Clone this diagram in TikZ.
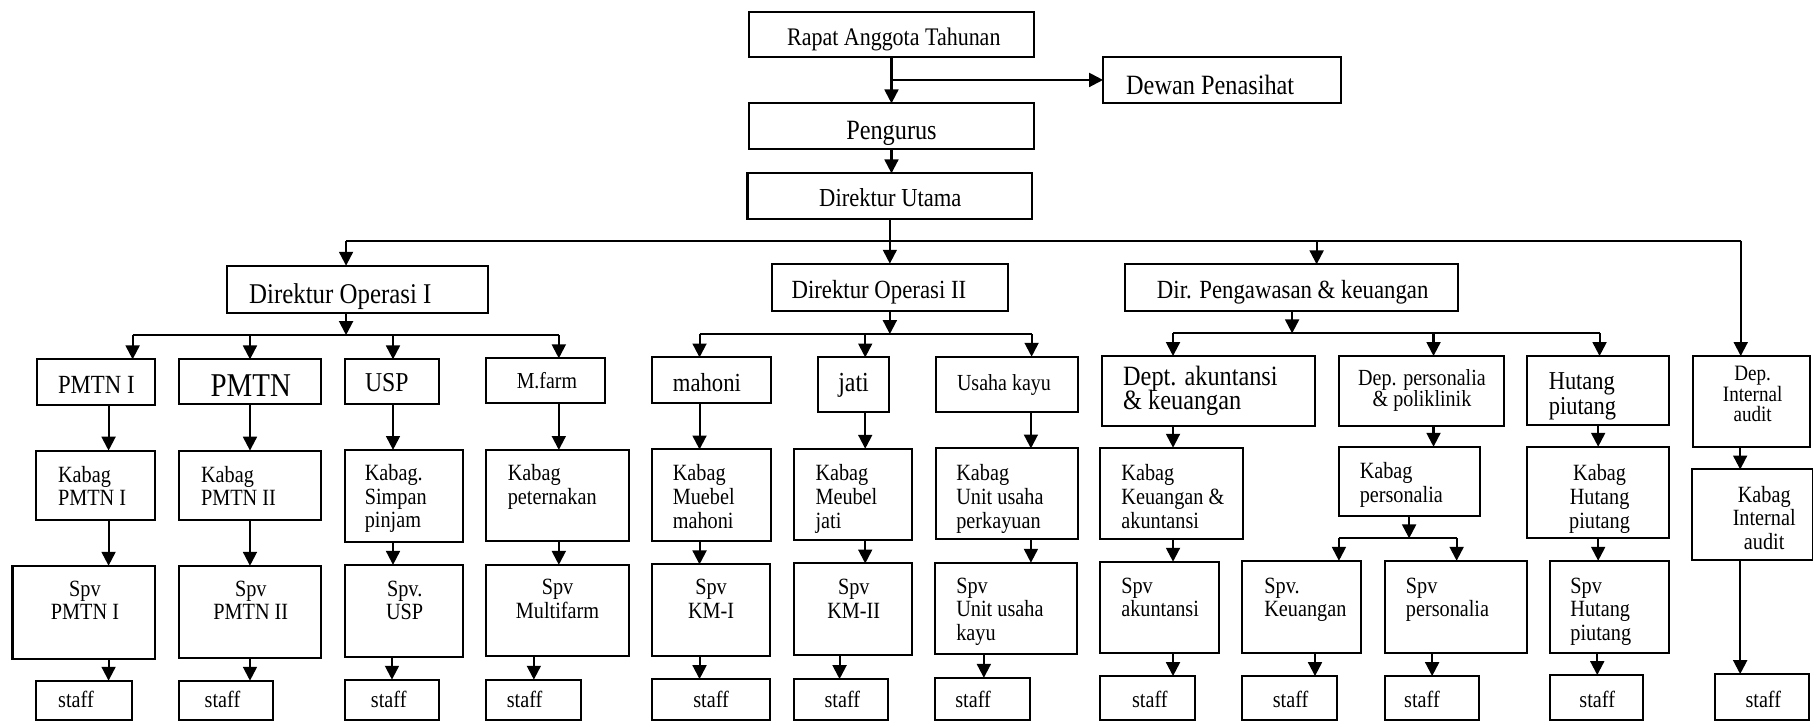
\documentclass[tikz,border=0pt]{standalone}
\usepackage{fontspec}
\setmainfont{Liberation Serif}[FakeStretch=0.87]
\usetikzlibrary{arrows.meta}
\newcommand\fs[2]{\fontsize{\dimexpr #1pt*115/100\relax}{#2}\selectfont\lineskiplimit=-100pt\relax}
\newcommand\mybox[5]{\node[bx, minimum width={(#4)-(#2)}, minimum height={(#5)-(#3)}] (#1) at ({((#2)+(#4))/2},{((#3)+(#5))/2}) {};}
\newcommand\vc[3]{\draw[arr] (#1.south -| #3,0) -- (#2.north -| #3,0);}
\begin{document}
\begin{tikzpicture}[x=1pt,y=-1pt,
  bx/.style={draw, line width=1.8pt, inner sep=0pt, outer sep=0pt},
  arr/.style={line width=1.8pt, -{Triangle[length=12pt,width=12pt]}},
  ln/.style={line width=1.8pt},
  t/.style={inner sep=0pt, outer sep=0pt, font=\fs{17.5}{20.5}, align=left}]
\path[use as bounding box] (0,0) rectangle (1568,626);

% ---- top
\mybox{rat}{648}{10}{894}{49.6}
\node[t, anchor=base, font=\fs{19}{22}] (ratt) at (773,39) {Rapat Anggota Tahunan};
\mybox{dew}{954}{49}{1159.4}{89.3}
\node[t, anchor=base west, font=\fs{21}{24}] (dewt) at (974,82) {Dewan Penasihat};
\mybox{pen}{648}{89.4}{894}{129.2}
\node[t, anchor=base, font=\fs{21}{24}] (pent) at (771,121) {Pengurus};
\mybox{du}{646.5}{149.9}{892.7}{189.7}
\node[t, anchor=base, font=\fs{19.5}{22}] (dut) at (770,178.7) {Direktur Utama};

\draw[arr] (rat.south) -- (pen.north);
\draw[arr] (rat.south |- dew.west) -- (dew.west);
\draw[arr] (pen.south) -- (pen.south |- du.north);

% ---- directors
\mybox{dop1}{196.2}{229.8}{422.1}{270.4}
\node[t, anchor=base west, font=\fs{21.5}{24}] (dop1t) at (215.5,262.4) {Direktur Operasi I};
\mybox{dop2}{667.3}{228}{872.1}{268.7}
\node[t, anchor=base west, font=\fs{19.7}{22}] (dop2t) at (684.6,258) {Direktur Operasi II};
\mybox{dpk}{973}{228.6}{1261}{268.9}
\node[t, anchor=base west, font=\fs{19.7}{22}] (dpkt) at (1000.6,258) {Dir. Pengawasan \& keuangan};

\coordinate (b0) at (299.3,208.2);
\coordinate (b3) at (1505.5,208.2);
\draw[ln] (du.south) -- (du.south |- b0);
\draw[ln] (b0) -- (b3);
\draw[arr] (b0) -- (b0 |- dop1.north);
\draw[arr] (du.south |- b0) -- (du.south |- dop2.north);
\draw[arr] (1138.7,208.2) -- (dpk.north -| 1138.7,0);

% ---- level 2
\mybox{pm1}{32.3}{310.8}{134.4}{350.2}
\node[t, anchor=base, font=\fs{19.7}{22}] (pm1t) at (83.3,340) {PMTN I};
\mybox{pm2}{154.9}{310.8}{277.8}{349.7}
\node[t, anchor=base, font=\fs{25}{28}] (pm2t) at (216.9,343) {PMTN};
\mybox{usp}{298.3}{310.8}{380}{349.7}
\node[t, anchor=base, font=\fs{20.5}{23}] (uspt) at (334.5,339) {USP};
\mybox{mf}{420.5}{309.9}{523.4}{348.8}
\node[t, anchor=base, font=\fs{17.2}{20}] (mft) at (473,336) {M.farm};

\mybox{mah}{563.7}{309.1}{666.6}{348.9}
\node[t, anchor=base, font=\fs{19.6}{22}] (maht) at (611.4,338.8) {mahoni};
\mybox{jat}{707.6}{309.1}{768.8}{356}
\node[t, anchor=base, font=\fs{20.7}{23}] (jatt) at (738.2,338.8) {jati};
\mybox{uk}{809.5}{308.5}{932}{356}
\node[t, anchor=base, font=\fs{17.3}{20}] (ukt) at (868.3,337.3) {Usaha kayu};

\mybox{dak}{952.7}{307.9}{1137.3}{368.5}
\node[t, anchor=north west, font=\fs{21}{21}] (dakt) at (971.4,316.5) {Dept. akuntansi\\\& keuangan};
\mybox{dpp}{1158}{307.9}{1300.8}{368.5}
\node[t, anchor=north, align=center, font=\fs{17.35}{18}] (dppt) at (1229.8,319.5) {Dep. personalia\\\& poliklinik};
\mybox{hp}{1320.8}{307.9}{1443.2}{367.6}
\node[t, anchor=north west, font=\fs{19.4}{21.6}] (hpt) at (1339.5,322) {Hutang\\piutang};
\mybox{dia}{1464.3}{307.9}{1565.6}{386.4}
\node[t, anchor=north, align=center, font=\fs{16.5}{18}] (diat) at (1515.8,316.5) {Dep.\\Internal\\audit};

% buses level 2
\coordinate (c1) at (114.7,289.8);
\coordinate (c2) at (483.3,289.8);
\draw[arr] (dop1.south -| b0) -- (b0 |- c1);
\draw[ln] (c1) -- (c2);
\draw[arr] (c1) -- (c1 |- pm1.north);
\draw[arr] (216.2,289.8) -- (pm2.north -| 216.2,0);
\draw[arr] (339.9,289.8) -- (usp.north -| 339.9,0);
\draw[arr] (c2) -- (c2 |- mf.north);

\coordinate (d1) at (605,288.9);
\coordinate (d2) at (892.2,288.9);
\draw[arr] (dop2.south -| du.south) -- (du.south |- d1);
\draw[ln] (d1) -- (d2);
\draw[arr] (d1) -- (d1 |- mah.north);
\draw[arr] (748.3,288.9) -- (jat.north -| 748.3,0);
\draw[arr] (d2) -- (d2 |- uk.north);

\coordinate (e1) at (1014.5,288.3);
\coordinate (e2) at (1383.4,288.3);
\draw[arr] (dpk.south -| 1117.5,0) -- (1117.5,288.3);
\draw[ln] (e1) -- (e2);
\draw[arr] (e1) -- (e1 |- dak.north);
\draw[arr] (1239.8,288.3) -- (dpp.north -| 1239.8,0);
\draw[arr] (e2) -- (e2 |- hp.north);
\draw[arr] (b3) -- (b3 |- dia.north);

% ---- level 3 (Kabag)
\mybox{kb1}{31.5}{389.7}{134.4}{449.6}
\node[t, anchor=north west] (kb1t) at (50.2,403) {Kabag\\PMTN I};
\mybox{kb2}{154.9}{389.7}{277.8}{449.6}
\node[t, anchor=north west] (kb2t) at (173.9,403) {Kabag\\PMTN II};
\mybox{kb3}{298.3}{389.1}{400.4}{468.9}
\node[t, anchor=north west] (kb3t) at (315.5,401.5) {Kabag.\\Simpan\\pinjam};
\mybox{kb4}{420.5}{389.1}{543.8}{467.5}
\node[t, anchor=north west] (kb4t) at (439.2,401.5) {Kabag\\peternakan};
\mybox{kb5}{563.7}{388.7}{666.6}{467.7}
\node[t, anchor=north west] (kb5t) at (581.9,401.7) {Kabag\\Muebel\\mahoni};
\mybox{kb6}{686.4}{388.1}{789}{467.1}
\node[t, anchor=north west] (kb6t) at (705.3,401.7) {Kabag\\Meubel\\jati};
\mybox{kb7}{809.5}{387.8}{932}{466.5}
\node[t, anchor=north west] (kb7t) at (827.1,401.7) {Kabag\\Unit usaha\\perkayuan};
\mybox{kb8}{951.5}{387.2}{1075.1}{466.5}
\node[t, anchor=north west] (kb8t) at (969.9,401.7) {Kabag\\Keuangan \&\\akuntansi};
\mybox{kb9}{1158}{386.4}{1279.7}{446.3}
\node[t, anchor=north west] (kb9t) at (1176,400.2) {Kabag\\personalia};
\mybox{kb10}{1320.8}{386.4}{1443.2}{465.6}
\node[t, anchor=north, align=center] (kb10t) at (1383.4,401.7) {Kabag\\Hutang\\piutang};
\mybox{kb11}{1463.1}{406}{1568}{484.4}
\node[t, anchor=north, align=center] (kb11t) at (1525.8,420.4) {Kabag\\Internal\\audit};

\vc{pm1}{kb1}{93.9}
\vc{pm2}{kb2}{216.2}
\vc{usp}{kb3}{339.9}
\vc{mf}{kb4}{483.3}
\vc{mah}{kb5}{605}
\vc{jat}{kb6}{748.3}
\vc{uk}{kb7}{891.6}
\vc{dak}{kb8}{1014.5}
\vc{dpp}{kb9}{1239.8}
\vc{hp}{kb10}{1382.2}
\vc{dia}{kb11}{1505}

% ---- level 4 (Spv)
\mybox{sp1}{10.8}{489.3}{134.4}{569.7}
\node[t, anchor=north, align=center] (sp1t) at (73.5,502.3) {Spv\\PMTN I};
\mybox{sp2}{154.9}{489.3}{277.8}{569.2}
\node[t, anchor=north, align=center] (sp2t) at (216.9,502.3) {Spv\\PMTN II};
\mybox{sp3}{298.3}{488.5}{400.4}{568.5}
\node[t, anchor=north, align=center] (sp3t) at (350,502.3) {Spv.\\USP};
\mybox{sp4}{420.5}{488.5}{543.8}{567.1}
\node[t, anchor=north, align=center] (sp4t) at (482.2,501) {Spv\\Multifarm};
\mybox{sp5}{563.7}{488.1}{665.6}{567.1}
\node[t, anchor=north, align=center] (sp5t) at (615,501.1) {Spv\\KM-I};
\mybox{sp6}{686.4}{487.3}{789}{566.5}
\node[t, anchor=north, align=center] (sp6t) at (738.4,501.1) {Spv\\KM-II};
\mybox{sp7}{808.5}{486.7}{931.3}{566}
\node[t, anchor=north west] (sp7t) at (827.1,499.7) {Spv\\Unit usaha\\kayu};
\mybox{sp8}{951.5}{485.8}{1054.4}{565.1}
\node[t, anchor=north west] (sp8t) at (969.8,499.7) {Spv\\akuntansi};
\mybox{sp9}{1074.3}{485}{1177.2}{565.1}
\node[t, anchor=north west] (sp9t) at (1093.5,499.7) {Spv.\\Keuangan};
\mybox{sp10}{1198}{485}{1320.8}{565.1}
\node[t, anchor=north west] (sp10t) at (1215.9,499.7) {Spv\\personalia};
\mybox{sp11}{1340.3}{485}{1443.2}{564.5}
\node[t, anchor=north west] (sp11t) at (1358.2,499.7) {Spv\\Hutang\\piutang};

\vc{kb1}{sp1}{93.9}
\vc{kb2}{sp2}{216.2}
\vc{kb3}{sp3}{339.9}
\vc{kb4}{sp4}{483.3}
\vc{kb5}{sp5}{605}
\vc{kb6}{sp6}{748.3}
\vc{kb7}{sp7}{891.6}
\vc{kb8}{sp8}{1014.5}
\vc{kb10}{sp11}{1382.2}
\coordinate (f1) at (1158,465.6);
\coordinate (f2) at (1259.8,465.6);
\draw[arr] (kb9.south -| 1218.7,0) -- (1218.7,465.6);
\draw[ln] (f1) -- (f2);
\draw[arr] (f1) -- (f1 |- sp9.north);
\draw[arr] (f2) -- (f2 |- sp10.north);

% ---- level 5 (staff)
\mybox{st1}{31.5}{588.7}{114}{622.5}
\mybox{st2}{154.9}{588.7}{235.9}{622.5}
\mybox{st3}{298.3}{587.8}{379.3}{622.5}
\mybox{st4}{420.5}{587.8}{502.6}{622.5}
\mybox{st5}{563.7}{587.3}{665.6}{622.5}
\mybox{st6}{686.4}{587.3}{768.2}{622.5}
\mybox{st7}{808.5}{586.2}{890.6}{622.5}
\mybox{st8}{951.5}{584.7}{1033.6}{623}
\mybox{st9}{1074.3}{584.7}{1156}{623}
\mybox{st10}{1198}{584.7}{1278.9}{623}
\mybox{st11}{1340.3}{583.8}{1421.3}{623}
\mybox{st12}{1483.1}{583}{1564.8}{622.8}
\node[t, anchor=base] (st1t) at (65.7,612) {staff};
\node[t, anchor=base] (st2t) at (192.4,612) {staff};
\node[t, anchor=base] (st3t) at (336.2,612) {staff};
\node[t, anchor=base] (st4t) at (453.7,612) {staff};
\node[t, anchor=base] (st5t) at (615,612) {staff};
\node[t, anchor=base] (st6t) at (728.5,612) {staff};
\node[t, anchor=base] (st7t) at (841.6,612) {staff};
\node[t, anchor=base] (st8t) at (994.5,611.5) {staff};
\node[t, anchor=base] (st9t) at (1116.2,611.5) {staff};
\node[t, anchor=base] (st10t) at (1229.8,611.5) {staff};
\node[t, anchor=base] (st11t) at (1381.4,611.5) {staff};
\node[t, anchor=base] (st12t) at (1525,611.5) {staff};

\vc{sp1}{st1}{93.9}
\vc{sp2}{st2}{216.2}
\vc{sp3}{st3}{339}
\vc{sp4}{st4}{461.7}
\vc{sp5}{st5}{605}
\vc{sp6}{st6}{726.1}
\vc{sp7}{st7}{850.9}
\vc{sp8}{st8}{1014.5}
\vc{sp9}{st9}{1137.3}
\vc{sp10}{st10}{1238.6}
\vc{sp11}{st11}{1381.4}
\vc{kb11}{st12}{1505}
\end{tikzpicture}
\end{document}
